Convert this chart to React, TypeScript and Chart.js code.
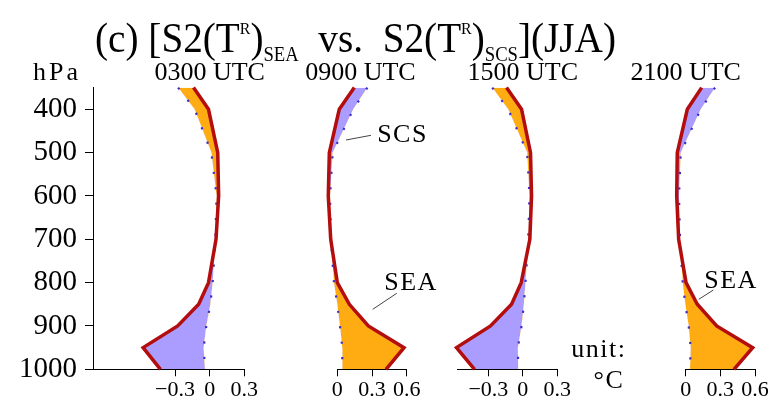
import React, { useEffect, useRef } from 'react';
import { Chart, registerables } from 'chart.js';

Chart.register(...registerables);

// ---------------- data ----------------
const levels = [350, 400, 500, 600, 700, 800, 850, 900, 950, 1000];
const panelTitles = ['0300 UTC', '0900 UTC', '1500 UTC', '2100 UTC'];

const sea0300 = [-0.14, -0.01, 0.07, 0.078, 0.055, -0.01, -0.095, -0.277, -0.576, -0.426];
const scs0300 = [-0.273, -0.13, 0.015, 0.06, 0.049, 0.026, 0.006, -0.029, -0.052, -0.04];
const sea0900 = [0.147, 0.017, -0.069, -0.078, -0.057, 0.0, 0.104, 0.268, 0.577, 0.421];
const scs0900 = [0.26, 0.138, -0.04, -0.063, -0.054, -0.029, 0.0, 0.023, 0.043, 0.043];
const sea1500 = [-0.142, -0.011, 0.067, 0.076, 0.061, -0.014, -0.098, -0.281, -0.577, -0.42];
const scs1500 = [-0.266, -0.127, 0.038, 0.058, 0.047, 0.023, 0.009, -0.011, -0.043, -0.04];
const sea2100 = [0.138, 0.014, -0.073, -0.078, -0.061, 0.003, 0.1, 0.268, 0.58, 0.418];
const scs2100 = [0.254, 0.13, -0.043, -0.058, -0.049, -0.026, -0.003, 0.026, 0.043, 0.037];

const pressureTicks = [400, 500, 600, 700, 800, 900, 1000];
const ticksA = [-0.3, 0, 0.3];
const ticksB = [0, 0.3, 0.6];

// ---------------- styles ----------------
const FONT = "'Liberation Serif', 'Times New Roman', serif";
const RED = '#b30d0d';
const BLUE = '#3a2fc8';
const ORANGE = '#ffab12';
const PURPLE = '#aa9dff';
const X_AXIS_H = 33.7;

const panels = [
  { id: 'x1', sea: sea0300, scs: scs0300, min: -1.01, max: 0.3, ticks: ticksA, titleAt: 0, weight: 151.3 },
  { id: 'x2', sea: sea0900, scs: scs0900, min: 0, max: 0.6, ticks: ticksB, titleAt: 0.2, weight: 69.4 },
  { id: 'x3', sea: sea1500, scs: scs1500, min: -0.57, max: 0.3, ticks: ticksA, titleAt: 0, weight: 100 },
  { id: 'x4', sea: sea2100, scs: scs2100, min: 0, max: 0.6, ticks: ticksB, titleAt: 0, weight: 69.3 },
];
const gapWeights = [93, 50.6, 128.4];

// annotation texts (data coordinates of the panel axes)
const labels = [
  { axis: 'x2', x: 0.564, p: 474.8, text: 'SCS' },
  { axis: 'x2', x: 0.637, p: 817, text: 'SEA' },
  { axis: 'x4', x: 0.392, p: 813, text: 'SEA' },
  { axis: 'x3', x: 0.662, p: 971, text: 'unit:' },
  { axis: 'x3', x: 0.749, p: 1043.9, text: '°C' },
];
const leaders = [
  { axis: 'x2', x0: 0.075, p0: 470.9, x1: 0.291, p1: 460.1 },
  { axis: 'x2', x0: 0.306, p0: 861.6, x1: 0.514, p1: 824.6 },
  { axis: 'x4', x0: 0.113, p0: 838.5, x1: 0.239, p1: 817.1 },
];

const titleParts = [
  { t: '(c) [S2(T', k: 'main' },
  { t: 'R', k: 'sup' },
  { t: ')', k: 'main' },
  { t: 'SEA', k: 'sub' },
  { t: '  vs.  S2(T', k: 'main' },
  { t: 'R', k: 'sup' },
  { t: ')', k: 'main' },
  { t: 'SCS', k: 'sub' },
  { t: '](JJA)', k: 'main' },
];
const partStyle: Record<string, { size: number; dy: number }> = {
  main: { size: 42, dy: 0 },
  sup: { size: 17, dy: -18 },
  sub: { size: 20, dy: 9 },
};
const TITLE_LEFT = 95;
const TITLE_WIDTH = 521;
const TITLE_BASE = 52;

const tickFmt = (v: number) =>
  Math.abs(v) < 1e-9 ? '0' : v < 0 ? '\u2212' + Math.abs(v).toFixed(1) : v.toFixed(1);

function xScale(pn: any) {
  return {
    type: 'linear',
    axis: 'x',
    position: 'bottom',
    stack: 'panels',
    stackWeight: pn.weight,
    min: pn.min,
    max: pn.max,
    afterBuildTicks: (s: any) => {
      s.ticks = pn.ticks.map((v: number) => ({ value: v }));
    },
    afterFit: (s: any) => {
      s.height = X_AXIS_H;
    },
    grid: { display: true, drawOnChartArea: false, drawTicks: true, tickLength: 7, color: '#000', lineWidth: 1 },
    border: { display: true, color: '#000', width: 1 },
    ticks: {
      autoSkip: false,
      maxRotation: 0,
      minRotation: 0,
      padding: 1,
      color: '#000',
      font: { family: FONT, size: 22 },
      callback: (v: any) => tickFmt(Number(v)),
    },
  };
}

function gapScale(w: number) {
  return {
    type: 'linear',
    axis: 'x',
    position: 'bottom',
    stack: 'panels',
    stackWeight: w,
    min: 0,
    max: 1,
    grid: { display: false },
    border: { display: false },
    ticks: { display: false },
    afterFit: (s: any) => {
      s.height = X_AXIS_H;
    },
  };
}

function buildDatasets() {
  const ds: any[] = [];
  panels.forEach((pn) => {
    const base = ds.length;
    ds.push({
      label: 'SEA',
      data: levels.map((p, i) => ({ x: pn.sea[i], y: p })),
      xAxisID: pn.id,
      yAxisID: 'y',
      borderColor: RED,
      borderWidth: 3.5,
      borderJoinStyle: 'miter',
      backgroundColor: ORANGE,
      pointRadius: 0,
      clip: false,
      // SEA right of SCS -> orange, left of SCS -> purple
      fill: { target: base + 1, above: ORANGE, below: PURPLE },
      order: 0,
    });
    ds.push({
      label: 'SCS',
      data: levels.map((p, i) => ({ x: pn.scs[i], y: p })),
      xAxisID: pn.id,
      yAxisID: 'y',
      borderColor: BLUE,
      borderWidth: 2.2,
      borderDash: [2.2, 13.3],
      pointRadius: 0,
      clip: false,
      fill: false,
      order: 1,
    });
  });
  return ds;
}

const textPlugin = {
  id: 'textPlugin',
  afterDraw(chart: any) {
    const { ctx, chartArea, scales } = chart;
    const yS = scales.y;
    ctx.save();
    ctx.fillStyle = '#000';
    ctx.textBaseline = 'alphabetic';
    ctx.textAlign = 'left';

    // main title (fitted to the reference width)
    let total = 0;
    for (const part of titleParts) {
      ctx.font = `${partStyle[part.k].size}px ${FONT}`;
      total += ctx.measureText(part.t).width;
    }
    ctx.save();
    ctx.translate(TITLE_LEFT, 0);
    ctx.scale(TITLE_WIDTH / total, 1);
    let tx = 0;
    for (const part of titleParts) {
      const st = partStyle[part.k];
      ctx.font = `${st.size}px ${FONT}`;
      ctx.fillText(part.t, tx, TITLE_BASE + st.dy);
      tx += ctx.measureText(part.t).width;
    }
    ctx.restore();

    // panel titles
    ctx.font = `26px ${FONT}`;
    ctx.textAlign = 'center';
    panels.forEach((pn, i) => {
      ctx.fillText(panelTitles[i], scales[pn.id].getPixelForValue(pn.titleAt), chartArea.top - 8);
    });

    // hPa
    ctx.textAlign = 'left';
    (ctx as any).letterSpacing = '3px';
    ctx.fillText('hPa', chartArea.left - 60, chartArea.top - 8);

    // annotation labels
    ctx.font = `26px ${FONT}`;
    (ctx as any).letterSpacing = '1.5px';
    ctx.textAlign = 'center';
    labels.forEach((l) => {
      ctx.fillText(l.text, scales[l.axis].getPixelForValue(l.x), yS.getPixelForValue(l.p));
    });
    (ctx as any).letterSpacing = '0px';

    // leader lines
    ctx.strokeStyle = '#444';
    ctx.lineWidth = 1;
    leaders.forEach((l) => {
      const s = scales[l.axis];
      ctx.beginPath();
      ctx.moveTo(s.getPixelForValue(l.x0), yS.getPixelForValue(l.p0));
      ctx.lineTo(s.getPixelForValue(l.x1), yS.getPixelForValue(l.p1));
      ctx.stroke();
    });
    ctx.restore();
  },
};

export default function App() {
  const ref = useRef<HTMLCanvasElement>(null);
  useEffect(() => {
    const canvas = ref.current;
    if (!canvas) return;
    const scales: any = {
      y: {
        type: 'linear',
        position: 'left',
        reverse: true,
        min: 350,
        max: 1000,
        afterBuildTicks: (s: any) => {
          s.ticks = pressureTicks.map((v) => ({ value: v }));
        },
        afterFit: (s: any) => {
          s.width = 93;
        },
        grid: { display: true, drawOnChartArea: false, drawTicks: true, tickLength: 8, color: '#000' },
        border: { display: true, color: '#000', width: 1 },
        ticks: {
          autoSkip: false,
          padding: 8,
          color: '#000',
          font: { family: FONT, size: 29 },
          callback: (v: any) => String(v),
        },
      },
    };
    panels.forEach((pn, i) => {
      scales[pn.id] = xScale(pn);
      if (i < gapWeights.length) scales['g' + (i + 1)] = gapScale(gapWeights[i]);
    });

    const chart = new Chart(canvas, {
      type: 'line',
      data: { datasets: buildDatasets() },
      options: {
        indexAxis: 'y',
        responsive: false,
        animation: false,
        devicePixelRatio: 1,
        layout: { padding: { top: 87.6, right: 17, bottom: 0, left: 0 } },
        scales,
        plugins: {
          legend: { display: false },
          tooltip: { enabled: false },
          title: { display: false },
          filler: { drawTime: 'beforeDatasetsDraw' },
        },
      } as any,
      plugins: [textPlugin],
    } as any);
    return () => chart.destroy();
  }, []);

  return (
    <div style={{ position: 'fixed', left: 0, top: 0, width: 772, height: 403, background: '#fff' }}>
      <canvas ref={ref} width={772} height={403} style={{ display: 'block', width: 772, height: 403 }} />
    </div>
  );
}
